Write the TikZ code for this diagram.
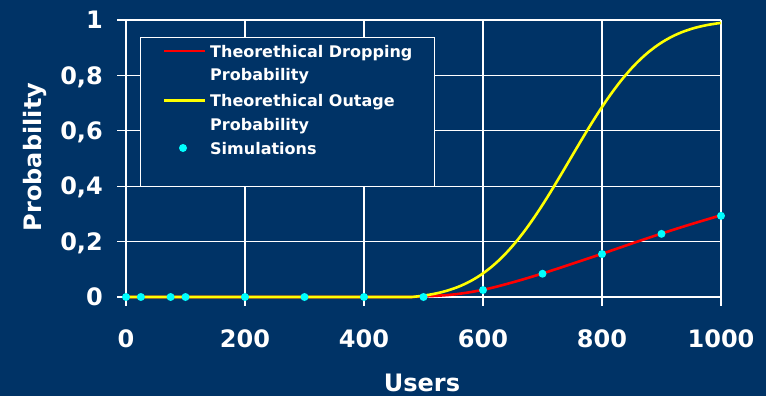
\documentclass[tikz,border=0pt]{standalone}
\usepackage{fontspec}
\setmainfont{DejaVu Sans}
\definecolor{bg}{HTML}{003366}
\definecolor{dropred}{HTML}{FF0000}
\definecolor{outyellow}{HTML}{FFFF00}
\definecolor{simcyan}{HTML}{00FFFF}
\tikzset{
  gridline/.style={draw=white, line width=1.4pt},
  ticklabel/.style={text=white, font=\fontsize{24}{28}\selectfont\bfseries,
    inner sep=0pt, text height=17.5pt, text depth=0pt},
  axistitle/.style={text=white, font=\fontsize{24}{28}\selectfont\bfseries, inner sep=0pt},
  legendtext/.style={text=white, font=\fontsize{16}{23.4}\selectfont\bfseries,
    inner sep=0pt, align=left, anchor=base west},
  dropcurve/.style={draw=dropred, line width=2.6pt},
  outcurve/.style={draw=outyellow, line width=2.6pt},
  simdot/.style={fill=simcyan},
  legendbox/.style={draw=white, line width=1.4pt, fill=bg}
}
\begin{document}
\begin{tikzpicture}[x=1pt, y=-1pt,
  declare function={ncdf(\z)=1/(1+exp(-(1.5976*\z+0.070566*\z*\z*\z)));}]
\fill[bg] (0,0) rectangle (766,396);
\useasboundingbox (0,0) rectangle (766,396);

% plot area in data units: users along x, probability along y
\begin{scope}[shift={(126,297)}, x=0.595pt, y=277pt]
  % horizontal grid lines and y ticks
  \foreach \v/\lab in {0/0, 0.2/{0,2}, 0.4/{0,4}, 0.6/{0,6}, 0.8/{0,8}, 1/1} {
    \draw[gridline] ([xshift=-9pt]0,\v) -- (1000,\v);
    \node[ticklabel, anchor=east] at ([xshift=-23pt]0,\v) {\lab};
  }
  % vertical grid lines and x ticks
  \foreach \u in {0,200,...,1000} {
    \draw[gridline] (\u,1) -- ([yshift=-9pt]\u,0);
    \node[ticklabel, anchor=north] at ([yshift=-33pt]\u,0) {\u};
  }

  % theoretical dropping probability
  \draw[dropcurve] (0,0) -- (480,0) -- plot[smooth, tension=0.6] coordinates {
    (500,0.002) (550,0.009) (600,0.026) (650,0.053) (700,0.085) (750,0.12)
    (800,0.156) (850,0.193) (900,0.229) (950,0.263) (1000,0.295)};

  % theoretical outage probability
  \draw[outcurve] (0,0) -- (480,0) -- plot[domain=480:1000, samples=90]
    (\x, {(ncdf((\x-746)/110) - 0.00768)/0.99232});

  % simulation points
  \foreach \u/\v in {0/0, 25/0, 75/0, 100/0, 200/0, 300/0, 400/0, 500/0,
                     600/0.025, 700/0.084, 800/0.155, 900/0.228, 1000/0.293}
    \fill[simdot] (\u,\v) circle[radius=4pt];
\end{scope}

% legend
\node[legendbox, anchor=north west, minimum width=294pt, minimum height=149.3pt,
      inner sep=0pt] (legend) at (140,36.7) {};
\coordinate (dropA) at (164,51);
\coordinate (dropB) at (205,51);
\draw[dropcurve] (dropA) -- (dropB);
\node[legendtext] (legDrop) at (210,80.7) {Theorethical Dropping\\Probability};
\coordinate (outA) at (164,100.7);
\coordinate (outB) at (205,100.7);
\draw[outcurve] (outA) -- (outB);
\node[legendtext] (legOut) at (210,130) {Theorethical Outage\\Probability};
\fill[simdot] (183,148) circle[radius=4pt];
\node[legendtext] (legSim) at (210,154.3) {Simulations};

% axis titles
\node[axistitle, rotate=90, anchor=base] (ytitle) at (41.5,157) {Probability};
\node[axistitle, anchor=base] (xtitle) at (422,391) {Users};
\end{tikzpicture}
\end{document}
